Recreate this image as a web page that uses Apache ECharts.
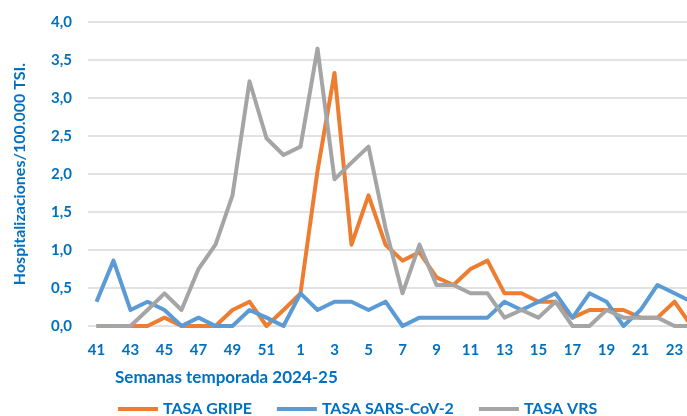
<!DOCTYPE html>
<html>
<head>
<meta charset="utf-8">
<script src="https://cdn.jsdelivr.net/npm/echarts@6/dist/echarts.min.js"></script>
<style>
  html, body { margin: 0; padding: 0; background: #fff; overflow: hidden; }
  /* the reference is cropped: the plot runs a little past the right edge */
  #chart { width: 700px; height: 416px; }
</style>
</head>
<body>
<div id="chart"></div>
<script>
// Semanas epidemiológicas 41-52 (2024) y 1-24 (2025)
const weeks = ['41','42','43','44','45','46','47','48','49','50','51','52',
  '1','2','3','4','5','6','7','8','9','10','11','12',
  '13','14','15','16','17','18','19','20','21','22','23','24'];

const gripe = [0, 0, 0, 0, 0.11, 0, 0, 0, 0.21, 0.32, 0, 0.21,
  0.43, 2.04, 3.33, 1.07, 1.72, 1.07, 0.86, 0.97, 0.64, 0.54, 0.75, 0.86,
  0.43, 0.43, 0.32, 0.32, 0.11, 0.21, 0.21, 0.21, 0.11, 0.11, 0.32, 0];

const sarsCov2 = [0.32, 0.86, 0.21, 0.32, 0.21, 0, 0.11, 0, 0, 0.21, 0.11, 0,
  0.43, 0.21, 0.32, 0.32, 0.21, 0.32, 0, 0.11, 0.11, 0.11, 0.11, 0.11,
  0.32, 0.21, 0.32, 0.43, 0.11, 0.43, 0.32, 0, 0.21, 0.54, 0.43, 0.32];

const vrs = [0, 0, 0, 0.21, 0.43, 0.21, 0.75, 1.07, 1.72, 3.22, 2.47, 2.25,
  2.36, 3.65, 1.93, 2.15, 2.36, 1.29, 0.43, 1.07, 0.54, 0.54, 0.43, 0.43,
  0.11, 0.21, 0.11, 0.32, 0, 0, 0.21, 0.11, 0.11, 0.11, 0, 0];

const blue = '#0070C0';
const font = 'Lato';

const chart = echarts.init(document.getElementById('chart'));

function line(name, data, color) {
  return {
    name: name,
    type: 'line',
    data: data,
    symbol: 'none',
    lineStyle: { width: 4, color: color, join: 'round' },
    itemStyle: { color: color },
    animation: false
  };
}

chart.setOption({
  animation: false,
  textStyle: { fontFamily: font },
  grid: { left: 88, right: 0, top: 22, bottom: 90 },
  title: {
    text: 'Semanas temporada 2024-25',
    left: 115,
    top: 369,
    padding: 0,
    textStyle: { color: blue, fontSize: 17, fontWeight: 'bold', fontFamily: font }
  },
  legend: {
    left: 118,
    top: 401,
    padding: 0,
    itemGap: 25,
    itemWidth: 40,
    itemHeight: 4,
    icon: 'rect',
    textStyle: { color: blue, fontSize: 16, fontWeight: 'bold', fontFamily: font },
    data: ['TASA GRIPE', 'TASA SARS-CoV-2', 'TASA VRS']
  },
  xAxis: {
    type: 'category',
    data: weeks,
    boundaryGap: true,
    axisLine: { show: false },
    axisTick: { show: false },
    axisLabel: {
      interval: 1,
      margin: 17,
      color: blue,
      fontSize: 15,
      fontWeight: 'bold',
      fontFamily: font
    }
  },
  yAxis: {
    type: 'value',
    min: 0,
    max: 4,
    interval: 0.5,
    name: 'Hospitalizaciones/100.000 TSI.',
    nameLocation: 'middle',
    nameGap: 60,
    nameTextStyle: { color: blue, fontSize: 16, fontWeight: 'bold', fontFamily: font },
    axisLine: { show: false },
    axisTick: { show: false },
    splitLine: { lineStyle: { color: '#D9D9D9', width: 1.5 } },
    axisLabel: {
      margin: 16,
      color: blue,
      fontSize: 15,
      fontWeight: 'bold',
      fontFamily: font,
      formatter: v => v.toFixed(1).replace('.', ',')
    }
  },
  series: [
    line('TASA GRIPE', gripe, '#ED7D31'),
    line('TASA SARS-CoV-2', sarsCov2, '#5B9BD5'),
    line('TASA VRS', vrs, '#A5A5A5')
  ]
});
</script>
</body>
</html>
